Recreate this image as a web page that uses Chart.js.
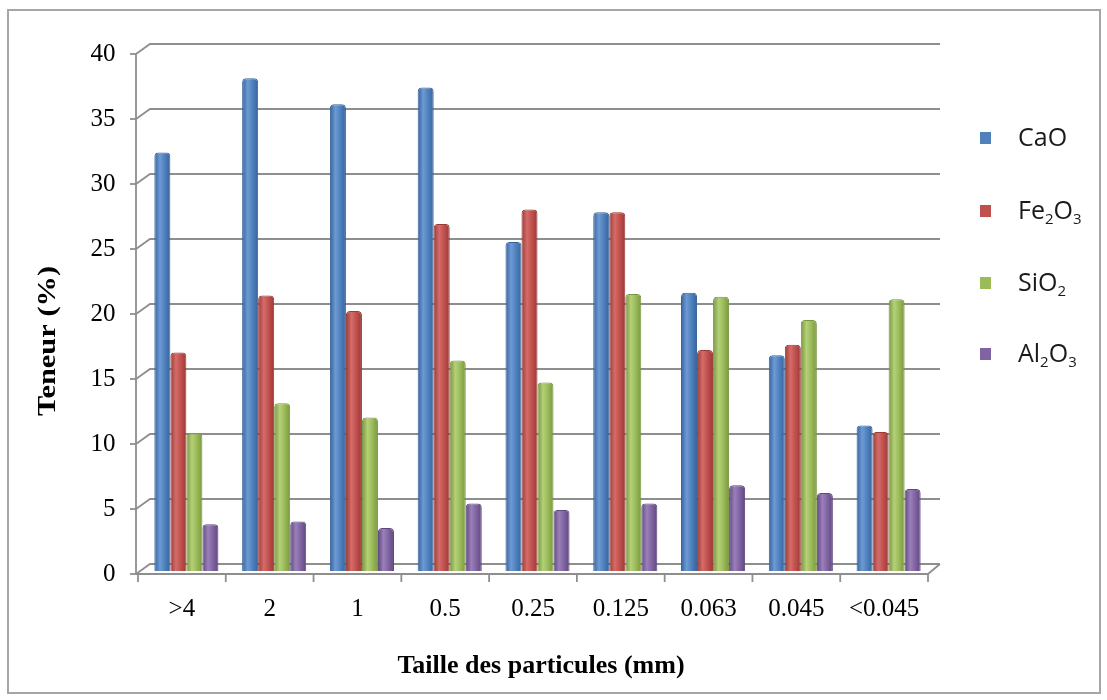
<!DOCTYPE html>
<html>
<head>
<meta charset="utf-8">
<script src="https://cdn.jsdelivr.net/npm/chart.js@4/dist/chart.umd.min.js"></script>
<style>
  html, body { margin: 0; padding: 0; background: #ffffff; }
  #wrap { width: 1107px; height: 700px; }
</style>
</head>
<body>
<div id="wrap"><canvas id="c" width="1107" height="700"></canvas></div>
<script>
// Particle size classes (mm)
const categories = ['>4', '2', '1', '0.5', '0.25', '0.125', '0.063', '0.045', '<0.045'];

// Oxide contents (%) per size class
const caO   = [32.2, 37.9, 35.9, 37.2, 25.3, 27.6, 21.4, 16.6, 11.2];
const fe2o3 = [16.8, 21.2, 20.0, 26.7, 27.8, 27.6, 17.0, 17.4, 10.7];
const siO2  = [10.6, 12.9, 11.8, 16.2, 14.5, 21.3, 21.1, 19.3, 20.9];
const al2o3 = [3.6, 3.8, 3.3, 5.2, 4.7, 5.2, 6.6, 6.0, 6.3];

// Series names (digits are drawn as subscripts in the legend)
const seriesNames = ['CaO', 'Fe2O3', 'SiO2', 'Al2O3'];

// Value axis
const yMin = 0, yMax = 40, yStep = 5;

const axisTitleX = 'Taille des particules (mm)';
const axisTitleY = 'Teneur (%)';

// Colour sets: [edge, base, highlight]
const palette = [
  ['#36639c', '#4f81bd', '#6d9ad4'],
  ['#9a3a37', '#c0504d', '#d46c69'],
  ['#789640', '#9bbb59', '#b4d078'],
  ['#5f4880', '#8064a2', '#9a80ba']
];

const SERIF = "'Liberation Serif', 'Times New Roman', serif";
const SANS = "'Open Sans', 'Liberation Sans', sans-serif";
const GRID = '#8e8e8e';

// 3D frame geometry (pixel offsets of front plane / back wall from the value scale)
const FRONT_SHIFT_X = -4.5, FRONT_DY = 3;
const DEPTH_X = 12, BACK_DY = -7;

const frame3d = {
  id: 'frame3d',
  beforeDatasetsDraw(chart) {
    const { ctx, chartArea: a, scales: { x, y } } = chart;
    const frontL = a.left + FRONT_SHIFT_X;
    const frontR = a.right + FRONT_SHIFT_X;
    const axisX = frontL - 2;
    const backL = frontL + DEPTH_X;
    const backR = frontR + DEPTH_X;
    ctx.save();
    ctx.strokeStyle = GRID;
    ctx.lineWidth = 1.8;
    ctx.lineCap = 'butt';
    // back wall gridlines with the diagonal link to the front axis
    for (let v = yMin; v <= yMax; v += yStep) {
      const p = y.getPixelForValue(v);
      ctx.beginPath();
      ctx.moveTo(axisX, p + FRONT_DY);
      ctx.lineTo(backL, p + BACK_DY);
      ctx.lineTo(backR, p + BACK_DY);
      ctx.stroke();
      // tick mark on the front axis
      ctx.beginPath();
      ctx.moveTo(axisX - 6, p + FRONT_DY);
      ctx.lineTo(axisX, p + FRONT_DY);
      ctx.stroke();
    }
    // front value axis
    ctx.beginPath();
    ctx.moveTo(axisX, y.getPixelForValue(yMax) + FRONT_DY);
    ctx.lineTo(axisX, y.getPixelForValue(yMin) + FRONT_DY);
    ctx.stroke();
    // floor front edge and right side
    const f0 = y.getPixelForValue(yMin) + FRONT_DY;
    const b0 = y.getPixelForValue(yMin) + BACK_DY;
    ctx.beginPath();
    ctx.moveTo(axisX, f0);
    ctx.lineTo(frontR, f0);
    ctx.lineTo(backR, b0);
    ctx.stroke();
    // category tick marks
    const n = categories.length;
    const cw = (a.right - a.left) / n;
    for (let k = 0; k <= n; k++) {
      const xx = x.getPixelForValue(0) - cw / 2 + k * cw + FRONT_SHIFT_X;
      ctx.beginPath();
      ctx.moveTo(xx, f0);
      ctx.lineTo(xx, f0 + 8);
      ctx.stroke();
    }
    ctx.restore();

    // cylinder-like shading on each bar
    chart.data.datasets.forEach((ds, i) => {
      const meta = chart.getDatasetMeta(i);
      const cols = palette[i];
      meta.data.forEach(el => {
        const w = el.width;
        const g = ctx.createLinearGradient(el.x - w / 2, 0, el.x + w / 2, 0);
        g.addColorStop(0, cols[0]);
        g.addColorStop(0.35, cols[2]);
        g.addColorStop(0.65, cols[1]);
        g.addColorStop(1, cols[0]);
        el.options = Object.assign({}, el.options, { backgroundColor: g });
      });
    });
  },
  afterDraw(chart) {
    const { ctx } = chart;
    ctx.save();
    // outer border
    ctx.strokeStyle = '#a6a6a6';
    ctx.lineWidth = 2;
    ctx.strokeRect(8, 10, 1092, 683);

    // axis titles
    ctx.fillStyle = '#000';
    ctx.font = 'bold 26px ' + SERIF;
    ctx.textAlign = 'center';
    ctx.textBaseline = 'middle';
    ctx.fillText(axisTitleX, 541, 666);
    ctx.save();
    ctx.translate(48, 341);
    ctx.rotate(-Math.PI / 2);
    ctx.scale(1.17, 1);
    ctx.fillText(axisTitleY, 0, 0);
    ctx.restore();

    // legend
    const ys = [138, 211, 283, 354];
    chart.data.datasets.forEach((ds, i) => {
      const cy = ys[i];
      ctx.fillStyle = palette[i][1];
      ctx.fillRect(980, cy - 6, 11, 12);
      drawFormula(ctx, ds.label, 1018, cy);
    });
    ctx.restore();
  }
};

function drawFormula(ctx, text, x, cy) {
  ctx.textAlign = 'left';
  ctx.textBaseline = 'alphabetic';
  ctx.fillStyle = '#1a1a1a';
  const base = cy + 8;
  let cx = x;
  for (const ch of text) {
    if (/[0-9]/.test(ch)) {
      ctx.font = '15px ' + SANS;
      ctx.fillText(ch, cx, base + 5);
    } else {
      ctx.font = '25px ' + SANS;
      ctx.fillText(ch, cx, base);
    }
    cx += ctx.measureText(ch).width;
  }
}

const seriesValues = [caO, fe2o3, siO2, al2o3];

new Chart(document.getElementById('c'), {
  type: 'bar',
  data: {
    labels: categories,
    datasets: seriesValues.map((vals, i) => ({
      label: seriesNames[i],
      data: vals,
      backgroundColor: palette[i][1],
      borderColor: palette[i][0],
      borderWidth: 1,
      borderSkipped: 'bottom',
      borderRadius: { topLeft: 4, topRight: 4, bottomLeft: 0, bottomRight: 0 },
      categoryPercentage: 0.73,
      barPercentage: 1.0
    }))
  },
  options: {
    responsive: false,
    animation: false,
    devicePixelRatio: 1,
    layout: { padding: { left: 0, top: 51, right: 174.5, bottom: 0 } },
    plugins: {
      legend: { display: false },
      tooltip: { enabled: false }
    },
    scales: {
      x: {
        grid: { display: false, drawTicks: false },
        border: { display: false },
        ticks: {
          color: '#000',
          font: { family: SERIF, size: 25 },
          padding: 23,
          labelOffset: -4.5,
          maxRotation: 0,
          autoSkip: false
        },
        afterFit(s) { s.height = 129; }
      },
      y: {
        min: yMin,
        max: yMax,
        grid: { display: false, drawTicks: false },
        border: { display: false },
        ticks: {
          stepSize: yStep,
          color: '#000',
          font: { family: SERIF, size: 25 },
          padding: 27,
          labelOffset: 3
        },
        afterFit(s) { s.width = 142.5; }
      }
    }
  },
  plugins: [frame3d]
});
</script>
</body>
</html>
